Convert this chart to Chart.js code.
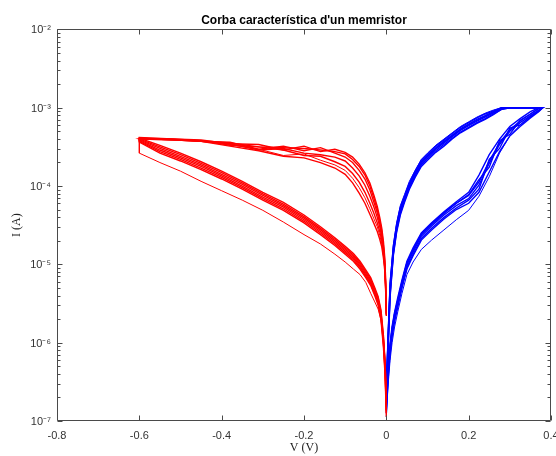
<!DOCTYPE html>
<html>
<head>
<meta charset="utf-8">
<title>Corba característica d'un memristor</title>
<script src="https://cdn.jsdelivr.net/npm/chart.js@4.4.1/dist/chart.umd.min.js"></script>
<style>
  html, body { margin: 0; padding: 0; background: #fff; }
  #grafic { display: block; }
</style>
</head>
<body>
<canvas id="grafic" width="556" height="456"></canvas>
<script>
// --- Dades llegides de la imatge (I en log10 d'amperes) ---

// Escombrat negatiu (vermell): anada 0 -> -0.6 V i tornada -0.6 -> 0 V
const redFwdV = [0, -0.002, -0.004, -0.007, -0.011, -0.016, -0.022, -0.03, -0.04, -0.052, -0.066, -0.082, -0.1, -0.125, -0.16, -0.2, -0.25, -0.31, -0.38, -0.45, -0.52, -0.6];
const redRetV = [-0.6, -0.55, -0.5, -0.45, -0.4, -0.35, -0.3, -0.25, -0.2, -0.16, -0.125, -0.1, -0.08, -0.064, -0.05, -0.038, -0.028, -0.02, -0.013, -0.007, -0.003, 0];

const redFwd1 = [-5.62, -5.20, -4.95, -4.76, -4.58, -4.44, -4.30, -4.16, -4.00, -3.86, -3.75, -3.66, -3.59, -3.56, -3.54, -3.52, -3.51, -3.50, -3.45, -3.42, -3.40, -3.39];
const redFwd2 = [-5.55, -5.14, -4.90, -4.71, -4.54, -4.40, -4.26, -4.12, -3.96, -3.83, -3.72, -3.63, -3.57, -3.53, -3.56, -3.49, -3.54, -3.47, -3.46, -3.41, -3.40, -3.38];
const redFwd3 = [-5.66, -5.22, -4.97, -4.79, -4.61, -4.48, -4.34, -4.21, -4.05, -3.91, -3.80, -3.70, -3.63, -3.58, -3.51, -3.55, -3.49, -3.53, -3.44, -3.43, -3.41, -3.39];
const redFwd4 = [-5.63, -5.23, -4.99, -4.82, -4.65, -4.52, -4.40, -4.27, -4.13, -3.99, -3.87, -3.77, -3.68, -3.63, -3.60, -3.58, -3.52, -3.54, -3.46, -3.43, -3.41, -3.40];
const redFwd5 = [-5.65, -5.28, -5.07, -4.92, -4.78, -4.68, -4.58, -4.48, -4.36, -4.22, -4.09, -3.96, -3.85, -3.77, -3.70, -3.64, -3.62, -3.55, -3.49, -3.43, -3.41, -3.40];
const redFwd6 = [-5.64, -5.25, -5.02, -4.86, -4.70, -4.58, -4.47, -4.35, -4.22, -4.08, -3.95, -3.84, -3.75, -3.69, -3.62, -3.61, -3.54, -3.50, -3.48, -3.42, -3.41, -3.39];
const redFwd7 = [-5.64, -5.26, -5.05, -4.89, -4.74, -4.63, -4.52, -4.42, -4.29, -4.15, -4.02, -3.90, -3.80, -3.73, -3.67, -3.59, -3.61, -3.53, -3.47, -3.43, -3.40, -3.39];

const redRet1 = [-3.41, -3.52, -3.62, -3.73, -3.85, -3.98, -4.12, -4.25, -4.41, -4.56, -4.70, -4.81, -4.90, -5.00, -5.11, -5.21, -5.34, -5.45, -5.63, -5.97, -6.32, -6.86];
const redRet2 = [-3.39, -3.48, -3.58, -3.69, -3.81, -3.94, -4.08, -4.21, -4.37, -4.52, -4.66, -4.77, -4.86, -4.96, -5.07, -5.17, -5.30, -5.41, -5.58, -5.91, -6.25, -6.78];
const redRet3 = [-3.43, -3.56, -3.66, -3.77, -3.89, -4.02, -4.16, -4.29, -4.45, -4.60, -4.74, -4.85, -4.94, -5.04, -5.15, -5.25, -5.38, -5.49, -5.68, -6.02, -6.38, -6.90];
const redRet4 = [-3.40, -3.50, -3.60, -3.71, -3.83, -3.96, -4.10, -4.23, -4.39, -4.54, -4.68, -4.79, -4.88, -4.98, -5.09, -5.19, -5.32, -5.43, -5.61, -5.94, -6.28, -6.74];
const redRet5 = [-3.44, -3.58, -3.68, -3.79, -3.91, -4.04, -4.18, -4.31, -4.47, -4.62, -4.76, -4.87, -4.96, -5.06, -5.17, -5.27, -5.40, -5.52, -5.71, -6.06, -6.42, -6.95];
const redRet6 = [-3.42, -3.54, -3.64, -3.75, -3.87, -4.00, -4.14, -4.27, -4.43, -4.58, -4.72, -4.83, -4.92, -5.02, -5.13, -5.23, -5.36, -5.47, -5.65, -6.00, -6.35, -6.88];
const redRet7 = [-3.58, -3.70, -3.81, -3.94, -4.06, -4.18, -4.31, -4.46, -4.62, -4.74, -4.87, -4.97, -5.06, -5.13, -5.23, -5.37, -5.48, -5.57, -5.71, -5.94, -6.22, -6.60];

// Escombrat positiu (blau): anada 0 -> 0.37 V, compliance 1 mA i tornada a 0 V
const blueFwdV = [0, 0.002, 0.005, 0.009, 0.014, 0.02, 0.028, 0.038, 0.05, 0.065, 0.085, 0.11, 0.14, 0.17, 0.2, 0.225, 0.25, 0.275, 0.3, 0.325, 0.35, 0.37];
const blueRetV = [0.38, 0.3, 0.28, 0.26, 0.24, 0.22, 0.2, 0.18, 0.16, 0.14, 0.12, 0.1, 0.085, 0.07, 0.056, 0.044, 0.034, 0.025, 0.017, 0.009, 0.004, 0];

const blueFwd1 = [-6.82, -6.60, -6.35, -6.09, -5.86, -5.67, -5.48, -5.25, -5.01, -4.84, -4.64, -4.51, -4.37, -4.25, -4.16, -3.99, -3.71, -3.47, -3.30, -3.19, -3.10, -3.03];
const blueFwd2 = [-6.75, -6.52, -6.27, -6.01, -5.79, -5.61, -5.42, -5.20, -4.96, -4.79, -4.60, -4.47, -4.33, -4.20, -4.08, -3.86, -3.60, -3.40, -3.24, -3.14, -3.05, -3.00];
const blueFwd3 = [-6.90, -6.68, -6.42, -6.15, -5.92, -5.73, -5.54, -5.30, -5.06, -4.89, -4.69, -4.56, -4.42, -4.30, -4.22, -4.08, -3.82, -3.56, -3.36, -3.24, -3.13, -3.05];
const blueFwd4 = [-6.80, -6.57, -6.32, -6.06, -5.83, -5.64, -5.46, -5.23, -4.99, -4.82, -4.62, -4.49, -4.35, -4.22, -4.11, -3.92, -3.76, -3.42, -3.34, -3.16, -3.08, -3.01];
const blueFwd5 = [-6.86, -6.64, -6.38, -6.12, -5.89, -5.70, -5.51, -5.28, -5.04, -4.87, -4.67, -4.54, -4.40, -4.28, -4.18, -4.04, -3.66, -3.52, -3.26, -3.22, -3.11, -3.04];
const blueFwd6 = [-6.78, -6.56, -6.31, -6.05, -5.82, -5.63, -5.45, -5.22, -4.98, -4.81, -4.61, -4.48, -4.34, -4.22, -4.12, -3.95, -3.68, -3.45, -3.28, -3.17, -3.08, -3.01];
const blueFwd7 = [-6.95, -6.74, -6.49, -6.23, -6.00, -5.80, -5.60, -5.37, -5.13, -4.97, -4.81, -4.69, -4.56, -4.43, -4.31, -4.13, -3.88, -3.58, -3.36, -3.22, -3.12, -3.05];

const blueRet1 = [-3.00, -3.00, -3.01, -3.06, -3.11, -3.16, -3.22, -3.28, -3.36, -3.44, -3.52, -3.62, -3.70, -3.84, -3.99, -4.16, -4.31, -4.53, -4.82, -5.33, -6.03, -6.67];
const blueRet2 = [-3.00, -3.00, -3.00, -3.04, -3.08, -3.13, -3.19, -3.25, -3.33, -3.41, -3.49, -3.59, -3.67, -3.81, -3.96, -4.13, -4.27, -4.49, -4.77, -5.26, -5.95, -6.58];
const blueRet3 = [-3.00, -3.00, -3.02, -3.08, -3.14, -3.19, -3.25, -3.31, -3.39, -3.47, -3.55, -3.65, -3.73, -3.87, -4.02, -4.19, -4.35, -4.57, -4.87, -5.40, -6.10, -6.75];
const blueRet4 = [-3.00, -3.00, -3.00, -3.05, -3.10, -3.15, -3.21, -3.27, -3.35, -3.43, -3.51, -3.61, -3.69, -3.83, -3.98, -4.15, -4.29, -4.51, -4.80, -5.30, -5.99, -6.62];
const blueRet5 = [-3.00, -3.00, -3.02, -3.09, -3.15, -3.20, -3.26, -3.32, -3.40, -3.49, -3.57, -3.67, -3.75, -3.89, -4.04, -4.21, -4.37, -4.59, -4.89, -5.43, -6.14, -6.80];
const blueRet6 = [-3.00, -3.00, -3.01, -3.07, -3.12, -3.17, -3.23, -3.29, -3.37, -3.45, -3.53, -3.63, -3.71, -3.85, -4.00, -4.17, -4.33, -4.55, -4.85, -5.37, -6.07, -6.71];
const blueRet7 = [-3.00, -3.00, -3.00, -3.03, -3.07, -3.12, -3.18, -3.24, -3.32, -3.40, -3.48, -3.58, -3.66, -3.80, -3.94, -4.11, -4.25, -4.47, -4.75, -5.22, -5.90, -6.55];

// Eixos
const xTickValues = [-0.8, -0.6, -0.4, -0.2, 0, 0.2, 0.4];
const xTickLabels = ['-0.8', '-0.6', '-0.4', '-0.2', '0', '0.2', '0.4'];
const yTickValues = [1e-7, 1e-6, 1e-5, 1e-4, 1e-3, 1e-2];
const yTickLabels = ['10\u207B\u2077', '10\u207B\u2076', '10\u207B\u2075', '10\u207B\u2074', '10\u207B\u00B3', '10\u207B\u00B2'];

const redFwdList = [redFwd1, redFwd2, redFwd3, redFwd4, redFwd5, redFwd6, redFwd7];
const redRetList = [redRet1, redRet2, redRet3, redRet4, redRet5, redRet6, redRet7];
const blueFwdList = [blueFwd1, blueFwd2, blueFwd3, blueFwd4, blueFwd5, blueFwd6, blueFwd7];
const blueRetList = [blueRet1, blueRet2, blueRet3, blueRet4, blueRet5, blueRet6, blueRet7];

const SANS = "'Liberation Sans', Arial, Helvetica, sans-serif";
const SERIF = "'Liberation Serif', 'Times New Roman', serif";

// un cicle = anada + tornada
function cicle(vA, logA, vB, logB) {
    const a = vA.map((v, i) => ({ x: v, y: Math.pow(10, logA[i]) }));
    const b = vB.map((v, i) => ({ x: v, y: Math.pow(10, logB[i]) }));
    return a.concat(b);
}

// l'ultim cicle de cada color es el traç fi separat del feix
const datasets = [];
redFwdList.forEach((fwd, k) => {
    datasets.push({
        label: 'V < 0, cicle ' + (k + 1),
        data: cicle(redFwdV, fwd, redRetV, redRetList[k]),
        borderColor: '#ff0000',
        borderWidth: k === redFwdList.length - 1 ? 1 : 1.4
    });
});
blueFwdList.forEach((fwd, k) => {
    datasets.push({
        label: 'V > 0, cicle ' + (k + 1),
        data: cicle(blueFwdV, fwd, blueRetV, blueRetList[k]),
        borderColor: '#0000ff',
        borderWidth: k === blueFwdList.length - 1 ? 1 : 1.4
    });
});

// caixa i marques cap a dins, estil MATLAB
const caixaMatlab = {
    id: 'caixaMatlab',
    afterDatasetsDraw(chart) {
        const { ctx, chartArea: a, scales } = chart;
        const xs = scales.x, ys = scales.y;
        const L = Math.round(a.left) + 0.5, R = Math.round(a.right) - 0.5;
        const T = Math.round(a.top) + 0.5, B = Math.round(a.bottom) - 0.5;
        ctx.save();
        ctx.strokeStyle = '#4a4a4a';
        ctx.lineWidth = 1;
        ctx.beginPath();
        ctx.rect(L, T, R - L, B - T);
        xTickValues.forEach(v => {
            const px = Math.round(xs.getPixelForValue(v)) + 0.5;
            ctx.moveTo(px, B); ctx.lineTo(px, B - 5);
            ctx.moveTo(px, T); ctx.lineTo(px, T + 5);
        });
        yTickValues.forEach(v => {
            const py = Math.round(ys.getPixelForValue(v)) + 0.5;
            ctx.moveTo(L, py); ctx.lineTo(L + 5, py);
            ctx.moveTo(R, py); ctx.lineTo(R - 5, py);
        });
        for (let e = -7; e < -2; e++) {
            for (let m = 2; m <= 9; m++) {
                const py = Math.round(ys.getPixelForValue(m * Math.pow(10, e))) + 0.5;
                ctx.moveTo(L, py); ctx.lineTo(L + 3, py);
                ctx.moveTo(R, py); ctx.lineTo(R - 3, py);
            }
        }
        ctx.stroke();
        ctx.restore();
    }
};

new Chart(document.getElementById('grafic'), {
    type: 'scatter',
    data: { datasets: datasets },
    options: {
        responsive: false,
        animation: false,
        devicePixelRatio: 1,
        showLine: true,
        elements: {
            point: { radius: 0, hoverRadius: 0 },
            line: { tension: 0, fill: false }
        },
        layout: { padding: { left: 0, right: 5, top: 0, bottom: 0 } },
        plugins: {
            legend: { display: false },
            tooltip: { enabled: false },
            title: {
                display: true,
                fullSize: false,
                text: "Corba característica d'un memristor",
                color: '#000',
                font: { family: SANS, size: 12, weight: 'bold' },
                padding: { top: 13, bottom: 2 }
            }
        },
        scales: {
            x: {
                type: 'linear',
                min: -0.8,
                max: 0.4,
                afterBuildTicks: s => { s.ticks = xTickValues.map(v => ({ value: v })); },
                afterFit: s => { s.height = 35; s.paddingLeft = 0; s.paddingRight = 0; },
                grid: { display: false, drawTicks: false },
                border: { display: false },
                ticks: {
                    color: '#333',
                    font: { family: SANS, size: 11 },
                    padding: 8,
                    maxRotation: 0,
                    autoSkip: false,
                    callback: (v, i) => xTickLabels[i]
                },
                title: {
                    display: true,
                    text: 'V (V)',
                    color: '#222',
                    font: { family: SERIF, size: 12 },
                    padding: { top: 0, bottom: 1 }
                }
            },
            y: {
                type: 'logarithmic',
                min: 1e-7,
                max: 1e-2,
                afterBuildTicks: s => { s.ticks = yTickValues.map(v => ({ value: v })); },
                afterFit: s => { s.width = 57; },
                grid: { display: false, drawTicks: false },
                border: { display: false },
                ticks: {
                    color: '#333',
                    font: { family: SANS, size: 11 },
                    padding: 6,
                    labelOffset: 1,
                    autoSkip: false,
                    callback: (v, i) => yTickLabels[i]
                },
                title: {
                    display: true,
                    text: 'I (A)',
                    color: '#222',
                    font: { family: SERIF, size: 12 },
                    padding: { top: 10, bottom: 0 }
                }
            }
        }
    },
    plugins: [caixaMatlab]
});
</script>
</body>
</html>
